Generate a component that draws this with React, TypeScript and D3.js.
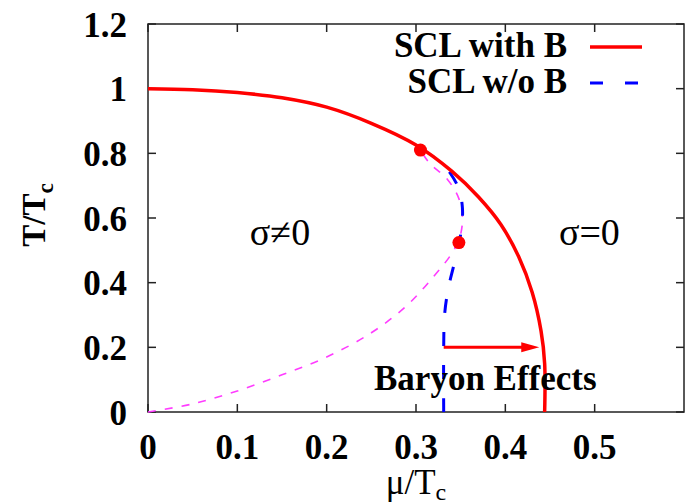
import React, { useRef, useEffect } from 'react';
import * as d3 from 'd3';

// phase boundary, SCL with B (solid red)
const muRed = [0, 0.05, 0.1, 0.15, 0.2, 0.25, 0.3, 0.34, 0.37, 0.395, 0.415, 0.43, 0.44, 0.444, 0.444];
const tRed = [1.0, 0.997, 0.988, 0.972, 0.943, 0.893, 0.826, 0.745, 0.665, 0.58, 0.48, 0.37, 0.25, 0.15, 0];

// SCL w/o B (blue dashed)
const muBlue = [0.331, 0.331, 0.332, 0.336, 0.342, 0.348, 0.351, 0.352, 0.348, 0.338, 0.326];
const tBlue = [0, 0.2, 0.3, 0.38, 0.45, 0.52, 0.57, 0.63, 0.69, 0.74, 0.78];

// thin magenta dashed curve
const muMag = [0, 0.05, 0.1, 0.15, 0.2, 0.25, 0.29, 0.32, 0.34, 0.349, 0.352, 0.348, 0.335, 0.315, 0.305];
const tMag = [0, 0.025, 0.065, 0.115, 0.17, 0.245, 0.33, 0.42, 0.49, 0.54, 0.6, 0.66, 0.72, 0.77, 0.81];

// critical points
const muDots = [0.305, 0.348];
const tDots = [0.81, 0.524];

// baryon effects arrow
const arrowMu = [0.331, 0.438];
const arrowT = [0.2, 0.2];

const xTicks = [0, 0.1, 0.2, 0.3, 0.4, 0.5];
const xTickLabels = ['0', '0.1', '0.2', '0.3', '0.4', '0.5'];
const yTicks = [0, 0.2, 0.4, 0.6, 0.8, 1.0, 1.2];
const yTickLabels = ['0', '0.2', '0.4', '0.6', '0.8', '1', '1.2'];

const legendLabels = ['SCL with B', 'SCL w/o B'];

const App = () => {
  const svgRef = useRef<SVGSVGElement>(null);
  const width = 686;
  const height = 504;

  useEffect(() => {
    const margin = { top: 24, right: 2, bottom: 92, left: 148 };
    const svg = d3.select(svgRef.current).attr('width', width).attr('height', height);
    svg.selectAll('*').remove();

    const font = '"Liberation Serif", "Times New Roman", serif';

    const xScale = d3.scaleLinear().domain([0, 0.6]).range([margin.left, width - margin.right]);
    const yScale = d3.scaleLinear().domain([0, 1.2]).range([height - margin.bottom, margin.top]);

    const x0 = xScale(0), x1 = xScale(0.6), y0 = yScale(0), y1 = yScale(1.2);

    // ticks, mirrored on all four sides, pointing inward
    const axisG = svg.append('g').attr('stroke', '#222').attr('stroke-width', 1.5);
    xTicks.forEach(t => {
      axisG.append('line').attr('x1', xScale(t)).attr('x2', xScale(t)).attr('y1', y0).attr('y2', y0 - 8);
      axisG.append('line').attr('x1', xScale(t)).attr('x2', xScale(t)).attr('y1', y1).attr('y2', y1 + 8);
    });
    yTicks.forEach(t => {
      axisG.append('line').attr('x1', x0).attr('x2', x0 + 8).attr('y1', yScale(t)).attr('y2', yScale(t));
      axisG.append('line').attr('x1', x1).attr('x2', x1 - 8).attr('y1', yScale(t)).attr('y2', yScale(t));
    });
    axisG.append('rect').attr('x', x0).attr('y', y1).attr('width', x1 - x0).attr('height', y0 - y1).attr('fill', 'none');

    // tick labels
    svg
      .selectAll('.xlab')
      .data(xTicks)
      .enter()
      .append('text')
      .attr('x', d => xScale(d))
      .attr('y', y0 + 47)
      .attr('text-anchor', 'middle')
      .attr('font-family', font)
      .attr('font-weight', 'bold')
      .attr('font-size', 35)
      .text((d, i) => xTickLabels[i]);

    svg
      .selectAll('.ylab')
      .data(yTicks)
      .enter()
      .append('text')
      .attr('x', x0 - 21)
      .attr('y', d => yScale(d))
      .attr('dy', '0.36em')
      .attr('text-anchor', 'end')
      .attr('font-family', font)
      .attr('font-weight', 'bold')
      .attr('font-size', 35)
      .text((d, i) => yTickLabels[i]);

    // axis titles
    const xt = svg
      .append('text')
      .attr('x', (x0 + x1) / 2)
      .attr('y', 494)
      .attr('text-anchor', 'middle')
      .attr('font-family', font)
      .attr('font-size', 35);
    xt.append('tspan').text('μ/T');
    xt.append('tspan').attr('font-size', 24).attr('dy', 6).text('c');

    const yt = svg
      .append('text')
      .attr('transform', 'translate(45, 215) rotate(-90)')
      .attr('text-anchor', 'middle')
      .attr('font-family', font)
      .attr('font-weight', 'bold')
      .attr('font-size', 33);
    yt.append('tspan').text('T/T');
    yt.append('tspan').attr('font-size', 23).attr('dy', 8).text('c');

    const line = d3
      .line<number>()
      .x(d => xScale(d))
      .curve(d3.curveCatmullRom.alpha(0.5));

    // magenta thin dashed
    svg
      .append('path')
      .datum(muMag)
      .attr('fill', 'none')
      .attr('stroke', '#ff3cff')
      .attr('stroke-width', 1.6)
      .attr('stroke-dasharray', '8,9')
      .attr('d', line.y((d, i) => yScale(tMag[i])));

    // blue dashed
    svg
      .append('path')
      .datum(muBlue)
      .attr('fill', 'none')
      .attr('stroke', '#0000ff')
      .attr('stroke-width', 3)
      .attr('stroke-dasharray', '14,19')
      .attr('d', line.y((d, i) => yScale(tBlue[i])));

    // red solid
    svg
      .append('path')
      .datum(muRed)
      .attr('fill', 'none')
      .attr('stroke', '#ff0000')
      .attr('stroke-width', 3.5)
      .attr('d', line.y((d, i) => yScale(tRed[i])));

    // dots
    svg
      .selectAll('.dot')
      .data(muDots)
      .enter()
      .append('circle')
      .attr('cx', d => xScale(d))
      .attr('cy', (d, i) => yScale(tDots[i]))
      .attr('r', 6.5)
      .attr('fill', '#ff0000');

    // arrow
    const ax0 = xScale(arrowMu[0]), ax1 = xScale(arrowMu[1]);
    const ay = yScale(arrowT[0]);
    svg
      .append('line')
      .attr('x1', ax0)
      .attr('x2', ax1 - 14)
      .attr('y1', ay)
      .attr('y2', yScale(arrowT[1]))
      .attr('stroke', '#ff0000')
      .attr('stroke-width', 3);
    svg
      .append('path')
      .attr('d', `M${ax1},${ay} L${ax1 - 18},${ay - 5} L${ax1 - 18},${ay + 5} Z`)
      .attr('fill', '#ff0000');

    // region labels
    svg
      .append('text')
      .attr('x', xScale(0.114))
      .attr('y', yScale(0.515))
      .attr('font-family', font)
      .attr('font-size', 38)
      .text('σ≠0');
    svg
      .append('text')
      .attr('x', xScale(0.46))
      .attr('y', yScale(0.515))
      .attr('font-family', font)
      .attr('font-size', 38)
      .text('σ=0');
    svg
      .append('text')
      .attr('x', xScale(0.253))
      .attr('y', yScale(0.068))
      .attr('font-family', font)
      .attr('font-weight', 'bold')
      .attr('font-size', 35)
      .text('Baryon Effects');

    // legend
    const legendY = [47, 83];
    legendLabels.forEach((lab, i) => {
      svg
        .append('text')
        .attr('x', 567)
        .attr('y', legendY[i] + 10)
        .attr('text-anchor', 'end')
        .attr('font-family', font)
        .attr('font-weight', 'bold')
        .attr('font-size', 35)
        .text(lab);
    });
    svg
      .append('line')
      .attr('x1', 590)
      .attr('x2', 642)
      .attr('y1', legendY[0])
      .attr('y2', legendY[0])
      .attr('stroke', '#ff0000')
      .attr('stroke-width', 3.5);
    svg
      .append('line')
      .attr('x1', 590)
      .attr('x2', 642)
      .attr('y1', legendY[1])
      .attr('y2', legendY[1])
      .attr('stroke', '#0000ff')
      .attr('stroke-width', 3)
      .attr('stroke-dasharray', '13,22');
  }, []);

  return <svg ref={svgRef} style={{ position: 'absolute', left: 0, top: 0 }}></svg>;
};

export default App;
